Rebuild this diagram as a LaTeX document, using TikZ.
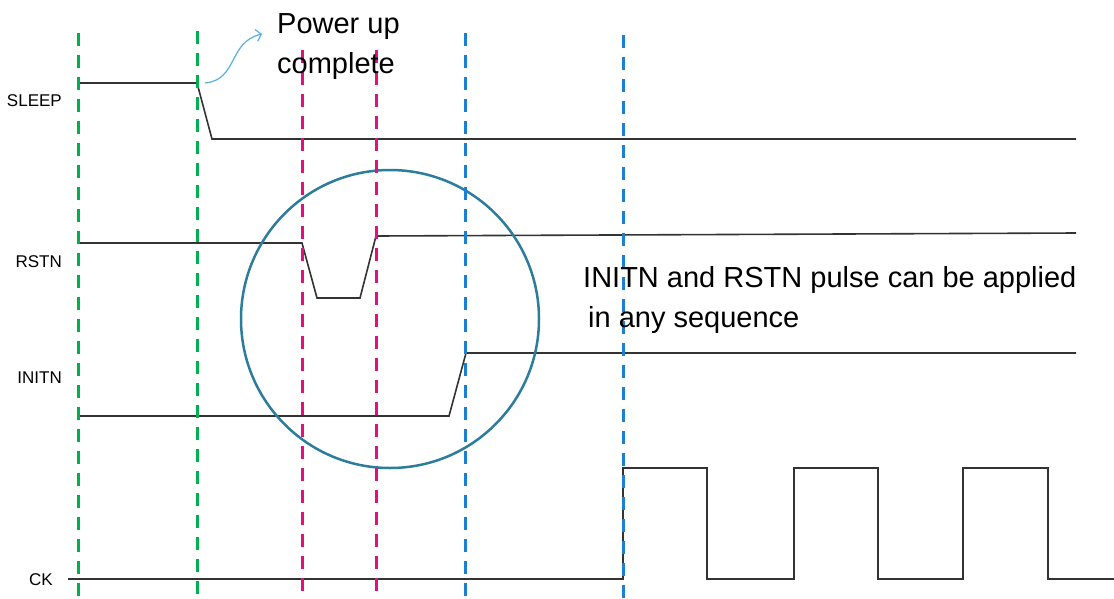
\documentclass[tikz,border=0pt]{standalone}
\usepackage{fontspec}
\setmainfont{Liberation Sans}
\usetikzlibrary{arrows.meta}
\definecolor{tdgreen}{HTML}{00B050}
\definecolor{tdmagenta}{HTML}{E0107E}
\definecolor{tdblue}{HTML}{1B7FD4}
\definecolor{tdring}{HTML}{2C7C9C}
\definecolor{tdarrow}{HTML}{5AAEE0}
\definecolor{tdwave}{HTML}{333333}
\tikzset{
  guide/.style={line width=3pt, dash pattern=on 13pt off 9pt},
  wave/.style={tdwave, line width=1.6pt, line join=miter},
  siglabel/.style={anchor=east, inner sep=0pt, font=\fontsize{17}{20}\selectfont},
  note/.style={anchor=base west, inner sep=0pt, align=left, font=\fontsize{29}{40}\selectfont}
}

\begin{document}
\begin{tikzpicture}[x=1pt, y=-1pt]
    \useasboundingbox (0,0) rectangle (1114,598);

    % signal names
    \node[siglabel] (sleep) at (62,101) {SLEEP};
    \node[siglabel] (rstn) at (62,262) {RSTN};
    \node[siglabel] (initn) at (62,378) {INITN};
    \node[siglabel] (ck) at (53,580) {CK};

    % waveforms
    \draw[wave] (78,83) -- (197,83) -- (212,139) -- (1076,139);
    \draw[wave] (78,243) -- (302,243) -- (317,298) -- (360,298) -- (376,236) -- (1076,233);
    \draw[wave] (78,416) -- (449,416) -- (466,353) -- (1076,353);
    \draw[wave] (68,579) -- (623,579) -- (623,468) -- (707,468) -- (707,579)
        -- (794,579) -- (794,468) -- (878,468) -- (878,579)
        -- (963,579) -- (963,468) -- (1048,468) -- (1048,579) -- (1114,579);

    % ring round the reset pulses
    \draw[tdring, line width=2.5pt] (390,319) circle (149);

    % time markers
    \draw[guide, tdgreen] (78,33) -- (78,598);
    \draw[guide, tdgreen] (197,31) -- (197,598);
    \draw[guide, tdmagenta] (302,50) -- (302,592);
    \draw[guide, tdmagenta] (376,50) -- (376,592);
    \draw[guide, tdblue] (465,33) -- (465,598);
    \draw[guide, tdblue] (623,35) -- (623,598);

    % notes (base = last line)
    \node[note] (pwrup) at (277,73) {Power up\\complete};
    \node[note] (anyseq) at (583,327) {INITN and RSTN pulse can be applied\\\hspace*{5pt}in any sequence};

    \coordinate (sleepedge) at (205,83);
    \coordinate (pwrtip) at (262,34);
    \draw[-{Straight Barb[length=5pt, width=12pt]}, tdarrow, line width=1.2pt]
        (sleepedge) .. controls (238,80) and (228,42) .. (pwrtip);
\end{tikzpicture}
\end{document}
